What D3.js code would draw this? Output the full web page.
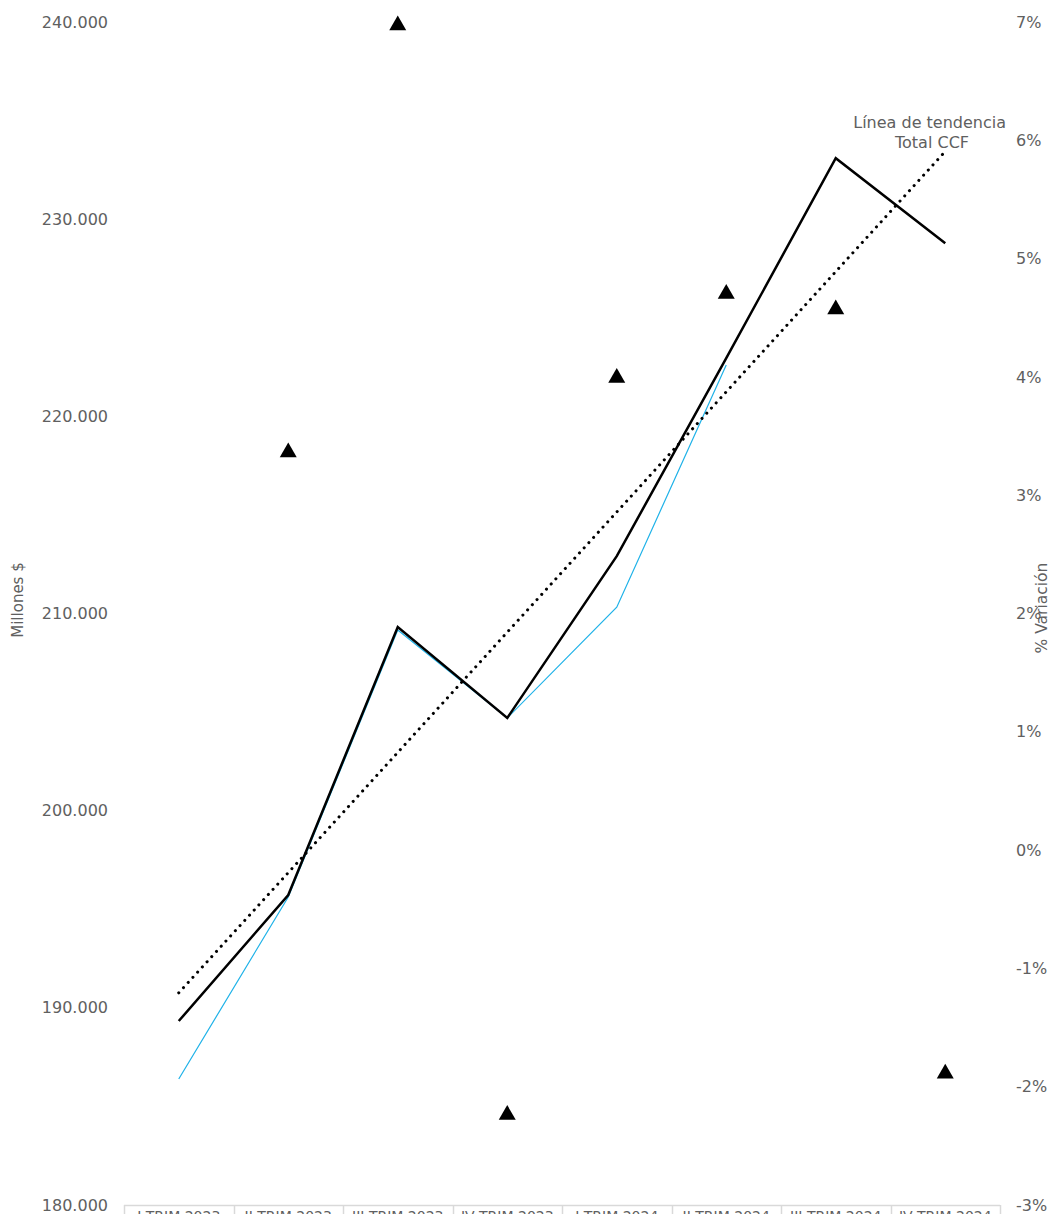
<!DOCTYPE html>
<html>
<head>
<meta charset="utf-8">
<script src="https://cdn.jsdelivr.net/npm/d3@7/dist/d3.min.js"></script>
<style>
html,body{margin:0;padding:0;background:#fff;}
svg{display:block;font-family:"DejaVu Sans",Verdana,sans-serif;}
</style>
</head>
<body>
<svg id="chart" width="1052" height="1214"></svg>
<script>
const categories = ["I TRIM 2023","II TRIM 2023","III TRIM 2023","IV TRIM 2023","I TRIM 2024","II TRIM 2024","III TRIM 2024","IV TRIM 2024"];
const totalCCF = [189330, 195720, 209310, 204700, 212910, 222950, 233090, 228780];
const serieAzul = [186390, 195620, 209160, 204700, 210320, 222600];
const variacion = [null, 3.37, 6.98, -2.23, 4.00, 4.71, 4.58, -1.88];
const leftTicks = [180000,190000,200000,210000,220000,230000,240000];
const rightTicks = [-3,-2,-1,0,1,2,3,4,5,6,7];

const svg = d3.select("#chart");
const x0 = 124, x1 = 1000, yTop = 22, yBot = 1205;

const x = d3.scaleBand().domain(categories).range([x0, x1]).padding(0);
const cx = c => x(c) + x.bandwidth()/2;
const yL = d3.scaleLinear().domain([180000, 240000]).range([yBot, yTop]);
const yR = d3.scaleLinear().domain([-3, 7]).range([yBot, yTop]);

const fmt = d3.formatLocale({decimal:",", thousands:".", grouping:[3], currency:["$",""]}).format(",.0f");
const gray = "#606060";

// Left axis
const gL = svg.append("g").attr("transform", `translate(${x0},0)`)
  .call(d3.axisLeft(yL).tickValues(leftTicks).tickFormat(fmt).tickSize(0).tickPadding(16));
gL.select(".domain").remove();
gL.selectAll("text").attr("fill",gray).style("font-size","16px").style("font-family","DejaVu Sans, Verdana, sans-serif");

// Right axis
const gR = svg.append("g").attr("transform", `translate(${x1},0)`)
  .call(d3.axisRight(yR).tickValues(rightTicks).tickFormat(d => d + "%").tickSize(0).tickPadding(16));
gR.select(".domain").remove();
gR.selectAll("text").attr("fill",gray).style("font-size","16px").style("font-family","DejaVu Sans, Verdana, sans-serif");

// Category table at bottom
const gC = svg.append("g");
gC.append("line").attr("x1", x0).attr("x2", x1).attr("y1", yBot+0.5).attr("y2", yBot+0.5)
  .attr("stroke","#d9d9d9").attr("stroke-width",1.5);
gC.selectAll("line.div").data([...categories.map(c => x(c)), x1]).join("line").attr("class","div")
  .attr("x1", d => Math.round(d)+0.5).attr("x2", d => Math.round(d)+0.5)
  .attr("y1", yBot).attr("y2", 1214).attr("stroke","#d9d9d9").attr("stroke-width",1.5);
gC.selectAll("text").data(categories).join("text")
  .attr("x", d => cx(d)).attr("y", 1221).attr("text-anchor","middle")
  .attr("fill",gray).style("font-size","14px").text(d => d);

// Axis titles
svg.append("text").attr("transform","translate(23,600) rotate(-90)").attr("text-anchor","middle")
  .attr("fill",gray).style("font-size","15px").text("Millones $");
svg.append("text").attr("transform","translate(1047,608) rotate(-90)").attr("text-anchor","middle")
  .attr("fill",gray).style("font-size","15.5px").text("% Variación");

// Blue series
const line = d3.line().x((d,i) => cx(categories[i])).y(d => yL(d));
svg.append("path").datum(serieAzul).attr("d", line).attr("fill","none")
  .attr("stroke","#1fb2e8").attr("stroke-width",1.2);

// Total CCF
svg.append("path").datum(totalCCF).attr("d", line).attr("fill","none")
  .attr("stroke","#000").attr("stroke-width",2.5).attr("stroke-linejoin","miter");

// Trend line (linear regression of Total CCF)
const n = totalCCF.length;
const xs = d3.range(1, n+1);
const mx = d3.mean(xs), my = d3.mean(totalCCF);
const slope = d3.sum(xs.map((v,i) => (v-mx)*(totalCCF[i]-my))) / d3.sum(xs.map(v => (v-mx)*(v-mx)));
const inter = my - slope*mx;
const trend = [inter + slope*1, inter + slope*n];
svg.append("line")
  .attr("x1", cx(categories[0])).attr("y1", yL(trend[0]))
  .attr("x2", cx(categories[n-1])).attr("y2", yL(trend[1]))
  .attr("stroke","#000").attr("stroke-width",3).attr("stroke-linecap","round")
  .attr("stroke-dasharray","0.1 6.9");

svg.append("text").attr("x", 1006).attr("y", 128).attr("text-anchor","end")
  .attr("fill",gray).style("font-size","16px").text("Línea de tendencia");
svg.append("text").attr("x", 969).attr("y", 148).attr("text-anchor","end")
  .attr("fill",gray).style("font-size","16px").text("Total CCF");

// Triangles (% variación)
svg.selectAll("path.tri").data(variacion.map((v,i) => ({v, c: categories[i]})).filter(d => d.v !== null))
  .join("path").attr("class","tri")
  .attr("d", d3.symbol().type(d3.symbolTriangle).size(125))
  .attr("transform", d => `translate(${cx(d.c)},${yR(d.v)+1})`)
  .attr("fill","#000");
</script>
</body>
</html>
